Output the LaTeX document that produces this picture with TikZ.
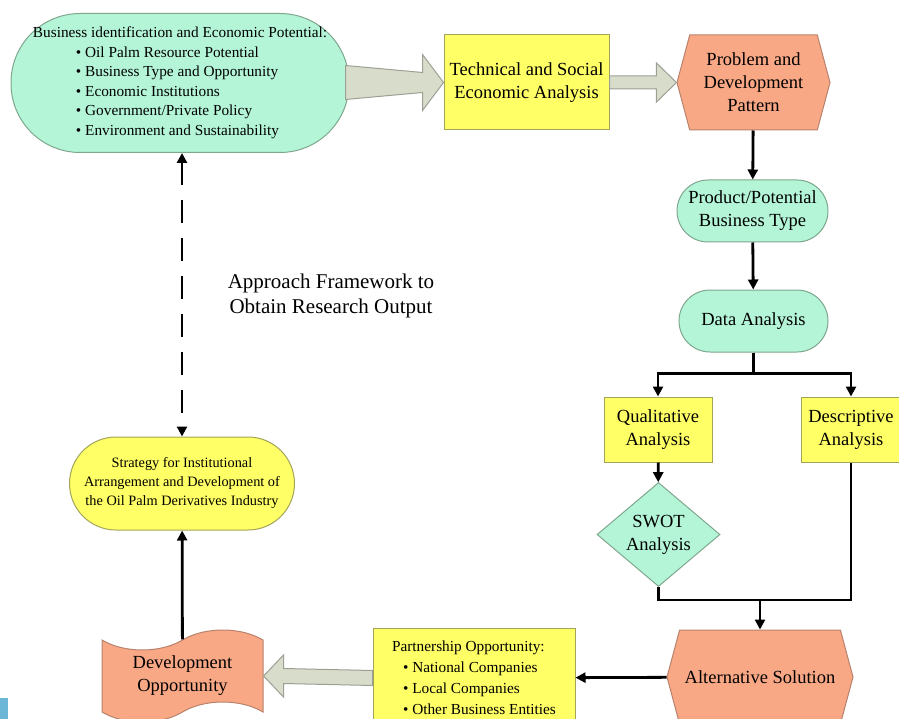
\documentclass[tikz,border=0pt]{standalone}
\usepackage{fontspec}
\setmainfont{Liberation Serif}
\usetikzlibrary{positioning,shapes.misc,shapes.geometric,shapes.symbols,arrows.meta,calc}
\definecolor{mint}{HTML}{B4F5D8}
\definecolor{mintline}{HTML}{7FA68E}
\definecolor{lemon}{HTML}{FFFF66}
\definecolor{lemonline}{HTML}{A3A35A}
\definecolor{salmon}{HTML}{F9A886}
\definecolor{salmonline}{HTML}{B8826C}
\definecolor{fatgray}{HTML}{D8DDCB}
\definecolor{fatline}{HTML}{9C9F94}
\definecolor{slideblue}{HTML}{6CB6D8}
\tikzset{
  pill/.style={draw=mintline, fill=mint, rounded rectangle, align=center, line width=1pt, inner sep=2pt},
  widepill/.style={draw=mintline, fill=mint, rectangle, rounded corners=#1, align=center, line width=1pt, inner sep=2pt},
  yellowbox/.style={draw=lemonline, fill=lemon, rectangle, align=center, line width=1pt, inner sep=2pt},
  hexbox/.style={draw=salmonline, fill=salmon, signal, signal to=west and east, signal pointer angle=150, align=center, line width=1pt, inner sep=2pt},
  decision/.style={draw=mintline, fill=mint, diamond, align=center, inner sep=0pt, line width=1pt},
  wavebox/.style={draw=salmonline, fill=salmon, tape, tape bend height=20pt, align=center, line width=1pt, inner sep=2pt},
  link/.style={-{Triangle[length=10pt,width=10pt]}, line width=2.8pt},
  plainlink/.style={line width=2.8pt},
  dashlink/.style={{Triangle[length=10pt,width=10pt]}-{Triangle[length=10pt,width=10pt]}, line width=2.8pt, dash pattern=on 23pt off 15pt},
  fatarrow/.style={draw=fatline, fill=fatgray, line width=1pt, line join=miter},
  bigtxt/.style={font=\fontsize{18.5}{23}\selectfont},
  midtxt/.style={font=\fontsize{14.3}{19}\selectfont},
  smalltxt/.style={font=\fontsize{15.3}{19.5}\selectfont}
}

\begin{document}
\begin{tikzpicture}[x=1pt,y=-1pt]
  \useasboundingbox (0,0) rectangle (899,719);
  \fill[slideblue] (0,698) rectangle (8,719);

  % top row
  \node[widepill=69pt, smalltxt, align=left, minimum width=338pt, minimum height=139pt] (bizid) at (180,83)
    {Business identification and Economic Potential:\\
     \hspace*{43pt}• Oil Palm Resource Potential\\
     \hspace*{43pt}• Business Type and Opportunity\\
     \hspace*{43pt}• Economic Institutions\\
     \hspace*{43pt}• Government/Private Policy\\
     \hspace*{43pt}• Environment and Sustainability};
  \node[yellowbox, bigtxt, minimum width=165pt, minimum height=95pt] (tech) at (526.5,82.5) {Technical and Social\\Economic Analysis};
  \node[hexbox, bigtxt, minimum width=153pt, minimum height=95pt] (problem) at (753.5,82.5) {Problem and\\Development\\Pattern};

  % right column
  \node[pill, bigtxt, minimum width=155pt, minimum height=62pt] (product) at (752.5,211) {Product/Potential\\Business Type};
  \node[pill, bigtxt, minimum width=153pt, minimum height=62pt] (data) at (753.5,321) {Data Analysis};
  \node[yellowbox, bigtxt, minimum width=108pt, minimum height=65pt] (qual) at (658,429.5) {Qualitative\\Analysis};
  \node[yellowbox, bigtxt, minimum width=100pt, minimum height=65pt] (desc) at (851,429.5) {Descriptive\\Analysis};
  \node[decision, bigtxt, minimum width=123pt, minimum height=75pt] (swot) at (658.5,534.5) {SWOT\\Analysis};
  \node[hexbox, bigtxt, minimum width=186pt, minimum height=94pt] (alt) at (760,677) {Alternative Solution};

  % bottom and left
  \node[yellowbox, font=\fontsize{15.3}{21}\selectfont, align=left, minimum width=202pt, minimum height=100pt] (partner) at (474,678)
    {Partnership Opportunity:\\
     \hspace*{11pt}• National Companies\\
     \hspace*{11pt}• Local Companies\\
     \hspace*{11pt}• Other Business Entities};
  \node[wavebox, bigtxt, minimum width=161pt, minimum height=92pt] (devopp) at (182.5,676) {Development\\Opportunity};
  \node[pill, midtxt, fill=lemon, draw=lemonline, minimum width=229pt, minimum height=93pt] (strategy) at (182,483.5)
    {Strategy for Institutional\\Arrangement and Development of\\the Oil Palm Derivatives Industry};
  \node[font=\fontsize{21}{25}\selectfont, align=center] (frame) at (331,296) {Approach Framework to\\Obtain Research Output};

  % wide arrows
  \draw[fatarrow] ($(bizid.east |- tech.west)+(-4,-17)$) -- ($(tech.west)+(-21,-10)$) -- ($(tech.west)+(-21,-28)$)
    -- (tech.west) -- ($(tech.west)+(-21,28)$) -- ($(tech.west)+(-21,10)$) -- ($(bizid.east |- tech.west)+(-4,17)$) -- cycle;
  \draw[fatarrow] ($(tech.east)+(0,-6.5)$) -- ($(problem.west)+(-20,-6.5)$) -- ($(problem.west)+(-20,-19.5)$)
    -- (problem.west) -- ($(problem.west)+(-20,19.5)$) -- ($(problem.west)+(-20,6.5)$) -- ($(tech.east)+(0,6.5)$) -- cycle;
  \draw[fatarrow] ($(partner.west)+(0,-7.5)$) -- ($(devopp.east)+(20,-7.5)$) -- ($(devopp.east)+(20,-21)$)
    -- (devopp.east) -- ($(devopp.east)+(20,21)$) -- ($(devopp.east)+(20,7.5)$) -- ($(partner.west)+(0,7.5)$) -- cycle;

  % connectors
  \draw[link] (problem) -- (product);
  \draw[link] (product) -- (data);
  \draw[link] (data.south) -- ++(0,21) -| (qual.north);
  \draw[link] (data.south) -- ++(0,21) -| (desc.north);
  \draw[link] (qual) -- (swot);
  \draw[plainlink] (swot.south) -- ++(0,13) coordinate (merge) -| (desc.south);
  \draw[link] (merge -| alt.north) -- (alt.north);
  \draw[link] (alt) -- (partner);
  \draw[link] (devopp) -- (strategy);
  \draw[dashlink] ([xshift=2pt]bizid.south) -- (strategy.north);
\end{tikzpicture}
\end{document}
